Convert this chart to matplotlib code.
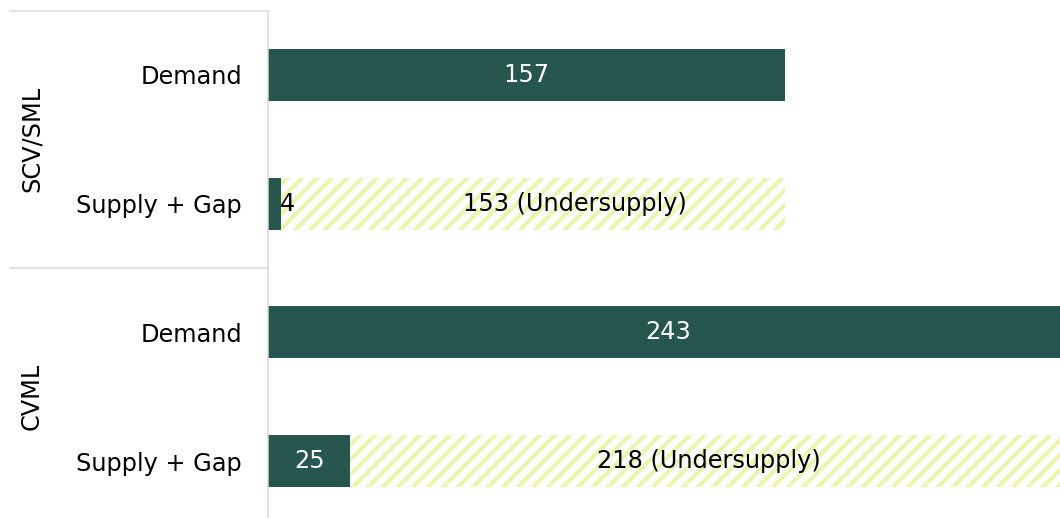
import matplotlib
matplotlib.use("Agg")
import matplotlib.pyplot as plt
from matplotlib.lines import Line2D
from matplotlib.transforms import offset_copy

groups = ["SCV/SML", "CVML"]
rows = ["Demand", "Supply + Gap", "Demand", "Supply + Gap"]
demand = [157, 243]
supply = [4, 25]
gap = [153, 218]

DARK = "#27564f"
HATCH = "#edf4b0"
GRID = "#d9d9d9"

W, H, DPI = 1060, 518, 90
PX = 72 / DPI  # points per pixel

plt.rcParams["font.family"] = ["DejaVu Sans"]
plt.rcParams["hatch.linewidth"] = 4.2 * PX
plt.rcParams["hatch.color"] = HATCH

fig = plt.figure(figsize=(W / DPI, H / DPI), dpi=DPI)
top_px, row_px = 10.6, 128.7
bottom_px = top_px + 4 * row_px
ax = fig.add_axes([268 / W, 1 - bottom_px / H, 1 - 268 / W, (bottom_px - top_px) / H])

ypos = list(range(len(rows)))
bh = 0.404
fs = 24 * PX
gap_label_shift_px = [42, 0]  # label nudges as in the original layout

for g in range(len(groups)):
    yd = ypos[2 * g]
    ys = ypos[2 * g + 1]
    ax.barh(yd, demand[g], height=bh, color=DARK, edgecolor="none")
    ax.text(demand[g] / 2, yd, f"{demand[g]}", color="white", ha="center", va="center",
            fontsize=fs, clip_on=False)
    ax.barh(ys, supply[g], height=bh, color=DARK, edgecolor="none")
    ax.barh(ys, gap[g], left=supply[g], height=bh, color="white", edgecolor=HATCH,
            hatch="//", linewidth=0)
    if supply[g] >= 10:
        ax.text(supply[g] / 2, ys, f"{supply[g]}", color="white", ha="center", va="center", fontsize=fs)
    else:
        ax.text(supply[g] - 0.5, ys, f"{supply[g]}", color="black", ha="left", va="center", fontsize=fs)
    tr = offset_copy(ax.transData, fig=fig, x=gap_label_shift_px[g], y=0, units="dots")
    ax.text(supply[g] + gap[g] / 2, ys, f"{gap[g]} (Undersupply)", color="black",
            ha="center", va="center", fontsize=fs, transform=tr)

ax.set_xlim(0, 240.5)
ax.set_ylim(3.5, -0.5)
ax.set_yticks(ypos)
ax.set_yticklabels(rows, fontsize=fs)
ax.tick_params(axis="y", length=0, pad=26 * PX)
ax.set_xticks([])
for s in ["top", "right", "bottom"]:
    ax.spines[s].set_visible(False)
ax.spines["left"].set_color(GRID)
ax.spines["left"].set_linewidth(1.5 * PX)

def fy(px):
    return 1 - px / H

# bracket lines
fig.add_artist(Line2D([10 / W, 268 / W], [fy(top_px), fy(top_px)], color=GRID, lw=1.5 * PX))
sep = top_px + 2 * row_px
fig.add_artist(Line2D([10 / W, 268 / W], [fy(sep), fy(sep)], color=GRID, lw=1.5 * PX))

for g, name in enumerate(groups):
    cy = top_px + (2 * g + 1) * row_px
    fig.text(32 / W, fy(cy), name, rotation=90, ha="center", va="center", fontsize=fs)

fig.savefig("out.png", dpi=DPI)
